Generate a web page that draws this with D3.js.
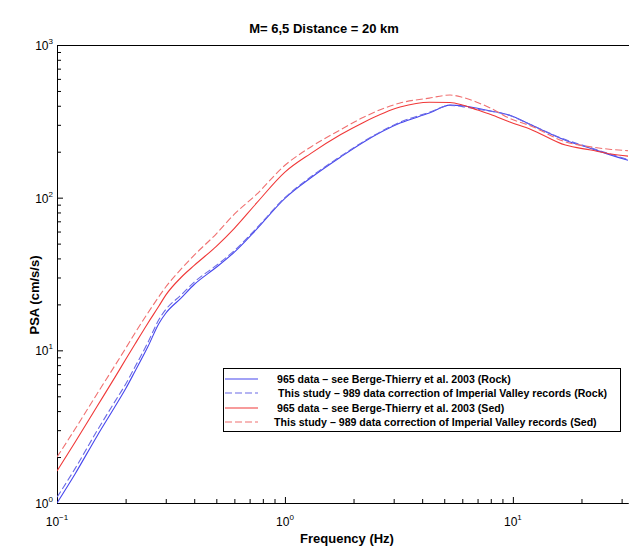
<!DOCTYPE html>
<html>
<head>
<meta charset="utf-8">
<script src="https://cdn.jsdelivr.net/npm/d3@7"></script>
<style>
  body { margin: 0; background: #fff; }
  text { font-family: Arial, "Liberation Sans", sans-serif; fill: #000; }
  .domain { stroke: #000; }
  .tick line { stroke: #000; }
</style>
</head>
<body>
<div id="chart"></div>
<script>
// frequencies (Hz) shared by all four spectra
var freq = [0.1, 0.12, 0.15, 0.18, 0.2, 0.22, 0.25, 0.28, 0.3, 0.35, 0.4, 0.5, 0.6, 0.75, 1.0,
  1.3, 1.75, 2.2, 3.2, 4.3, 5.3, 6.0, 7.0, 8.0, 9.7, 12, 17, 22, 27, 32];

// PSA (cm/s/s)
var rockOld = [1.0, 1.55, 2.75, 4.3, 5.6, 7.3, 10.5, 15, 17.5, 22, 27, 35, 44, 62, 99,
  135, 184, 230, 308, 358, 404, 400, 385, 370, 347, 300, 238, 210, 190, 176];
var rockNew = [1.09, 1.68, 2.98, 4.65, 6.0, 7.8, 11.2, 15.9, 18.5, 23, 28, 36, 45, 63, 100,
  137, 186, 232, 312, 362, 402, 395, 380, 368, 345, 300, 240, 212, 192, 178];
var sedOld = [1.62, 2.5, 4.3, 6.7, 8.7, 11, 15, 19.5, 23, 30, 36, 48, 63, 92, 147,
  195, 258, 310, 392, 422, 420, 405, 375, 350, 313, 280, 221, 205, 193, 187];
var sedNew = [2.0, 3.05, 5.2, 8.0, 10.3, 13, 17.5, 22.5, 26, 34, 42, 58, 78, 105, 163,
  215, 278, 335, 417, 449, 470, 455, 420, 385, 330, 295, 232, 215, 207, 203];

var legendLabels = [
  "965 data \u2013 see Berge-Thierry et al. 2003 (Rock)",
  "This study \u2013 989 data correction of Imperial Valley records (Rock)",
  "965 data \u2013 see Berge-Thierry et al. 2003 (Sed)",
  "This study \u2013 989 data correction of Imperial Valley records (Sed)"
];

var xMajor = [0.1, 1, 10];
var xMajorExp = ["\u22121", "0", "1"];
var xMinor = [0.2, 0.3, 0.4, 0.5, 0.6, 0.7, 0.8, 0.9, 2, 3, 4, 5, 6, 7, 8, 9, 20, 30];
var yMajor = [1, 10, 100, 1000];
var yMajorExp = ["0", "1", "2", "3"];
var yMinor = [2, 3, 4, 5, 6, 7, 8, 9, 20, 30, 40, 50, 60, 70, 80, 90, 200, 300, 400, 500, 600, 700, 800, 900];

var w = 629;
var h = 549;
// plot box (careful: "top" is taken by window.top)
var plotL = 57, plotR = 628, plotT = 45, plotB = 503;

var svg = d3.select("#chart").append("svg").attr("width", w).attr("height", h);

var xScale = d3.scaleLog().domain([0.1, 32]).range([plotL, plotR]);
var yScale = d3.scaleLog().domain([1, 1000]).range([plotB, plotT]);

// axes (ticks point inward)
svg.append("g")
  .attr("transform", "translate(0," + plotB + ")")
  .call(d3.axisBottom(xScale).tickValues(xMinor).tickSizeInner(-4).tickSizeOuter(0).tickFormat(""));
svg.append("g")
  .attr("transform", "translate(0," + plotB + ")")
  .call(d3.axisBottom(xScale).tickValues(xMajor).tickSizeInner(-6).tickSizeOuter(0).tickFormat(""));
svg.append("g")
  .attr("transform", "translate(" + plotL + ",0)")
  .call(d3.axisLeft(yScale).tickValues(yMinor).tickSizeInner(-4).tickSizeOuter(0).tickFormat(""));
svg.append("g")
  .attr("transform", "translate(" + plotL + ",0)")
  .call(d3.axisLeft(yScale).tickValues(yMajor).tickSizeInner(-6).tickSizeOuter(0).tickFormat(""));

// top frame line
svg.append("line")
  .attr("x1", plotL).attr("x2", w)
  .attr("y1", plotT + 0.5).attr("y2", plotT + 0.5)
  .attr("stroke", "#000");

// tick labels as 10^n
xMajor.forEach(function(v, i) {
  var t = svg.append("text")
    .attr("x", xScale(v))
    .attr("y", plotB + 23)
    .attr("text-anchor", "middle")
    .attr("font-size", 12);
  t.append("tspan").text("10");
  t.append("tspan").attr("dy", -6).attr("font-size", 8).text(xMajorExp[i]);
});
yMajor.forEach(function(v, i) {
  var t = svg.append("text")
    .attr("x", plotL - 4)
    .attr("y", yScale(v) + 5)
    .attr("text-anchor", "end")
    .attr("font-size", 12);
  t.append("tspan").text("10");
  t.append("tspan").attr("dy", -6).attr("font-size", 8).text(yMajorExp[i]);
});

// titles
svg.append("text")
  .attr("x", 324).attr("y", 33)
  .attr("text-anchor", "middle")
  .attr("font-size", 13).attr("font-weight", "bold")
  .text("M= 6,5 Distance = 20 km");
svg.append("text")
  .attr("x", 347).attr("y", 543)
  .attr("text-anchor", "middle")
  .attr("font-size", 13).attr("font-weight", "bold")
  .text("Frequency (Hz)");
svg.append("text")
  .attr("transform", "translate(39,295)rotate(-90)")
  .attr("text-anchor", "middle")
  .attr("font-size", 13).attr("font-weight", "bold")
  .text("PSA (cm/s/s)");

// curves
svg.append("clipPath").attr("id", "plotClip")
  .append("rect")
  .attr("x", plotL).attr("y", plotT)
  .attr("width", w - plotL).attr("height", plotB - plotT);

var series = [
  { vals: rockOld, color: "#4646ee", dash: null },
  { vals: rockNew, color: "#6a6ae6", dash: "7,3" },
  { vals: sedOld, color: "#f03838", dash: null },
  { vals: sedNew, color: "#f07070", dash: "7,3" }
];

var line = d3.line()
  .x(function(d) { return xScale(d[0]); })
  .y(function(d) { return yScale(d[1]); })
  .curve(d3.curveMonotoneX);

series.forEach(function(s) {
  svg.append("path")
    .datum(freq.map(function(f, i) { return [f, s.vals[i]]; }))
    .attr("clip-path", "url(#plotClip)")
    .attr("fill", "none")
    .attr("stroke", s.color)
    .attr("stroke-width", 1.1)
    .attr("stroke-dasharray", s.dash)
    .attr("d", line);
});

// legend
var legend = svg.append("g");
legend.append("rect")
  .attr("x", 223.5).attr("y", 368.5)
  .attr("width", 397).attr("height", 63)
  .attr("fill", "#fff").attr("stroke", "#000");

var rowY = [379, 393, 408, 422];
var textX = [277, 278, 277, 274];
series.forEach(function(s, i) {
  legend.append("line")
    .attr("x1", 225).attr("x2", 258)
    .attr("y1", rowY[i]).attr("y2", rowY[i])
    .attr("stroke", s.color)
    .attr("stroke-width", 1.1)
    .attr("stroke-dasharray", s.dash);
  legend.append("text")
    .attr("x", textX[i]).attr("y", rowY[i] + 4)
    .attr("font-size", 10.6).attr("font-weight", "bold")
    .text(legendLabels[i]);
});
</script>
</body>
</html>
